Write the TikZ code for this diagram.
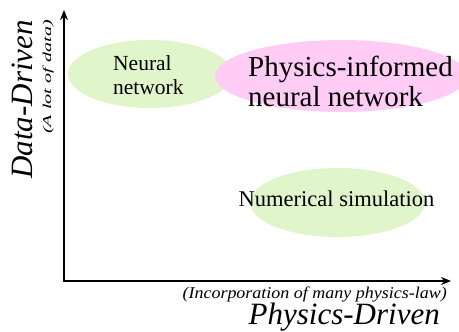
\documentclass[tikz,border=0pt]{standalone}
\usepackage{fontspec}
\setmainfont{Liberation Serif}
\usetikzlibrary{shapes.geometric, arrows.meta}

\definecolor{leafgreen}{HTML}{E1F5CA}
\definecolor{softpink}{HTML}{FFCCF6}

\tikzset{
  blob/.style={ellipse, draw=none, inner sep=0pt},
  axislabel/.style={font=\fontsize{31}{33}\selectfont\itshape, inner sep=0pt},
  axisnote/.style={font=\fontsize{16.5}{18}\selectfont\itshape, inner sep=0pt},
}

\begin{document}
\begin{tikzpicture}[x=1pt, y=-1pt]
  % Frame of the page
  \useasboundingbox (0,0) rectangle (459,332);

  % Axes
  \coordinate (origin) at (64,281);
  \coordinate (ytip) at (64,10);
  \coordinate (xtip) at (451,281);
  \draw[line width=1.2pt, {Stealth[length=10pt,width=8pt]}-{Stealth[length=10pt,width=8pt]}] (ytip) -- (origin) -- (xtip);

  % Coloured regions
  \node[blob, fill=leafgreen, minimum width=164pt, minimum height=68pt] (nnblob) at (150,74) {};
  \node[blob, fill=softpink, minimum width=252pt, minimum height=72pt] (pinnblob) at (341,76) {};
  \node[blob, fill=leafgreen, minimum width=175pt, minimum height=69pt] (simblob) at (337.5,202.5) {};

  % Region texts
  \node[align=left, anchor=west, inner sep=0pt, font=\fontsize{21.5}{23.5}\selectfont] (nn) at (113,75) {Neural\\network};
  \node[align=left, anchor=west, inner sep=0pt, font=\fontsize{29}{30}\selectfont] (pinn) at (248,81) {Physics-informed\\neural network};
  \node[anchor=base, inner sep=0pt, font=\fontsize{22.5}{24}\selectfont] (sim) at (336.5,206) {Numerical simulation};

  % Axis texts
  \node[axislabel, rotate=90, anchor=base east] (ylabel) at (32,20) {Data-Driven};
  \node[axisnote, rotate=90, anchor=base east, font=\fontsize{12}{14}\selectfont\itshape] (ynote) at (51,20) {\scalebox{1.68}[1]{(A lot of data)}};
  \node[axisnote, anchor=base east] (xnote) at (447,298) {\scalebox{1.09}[1]{(Incorporation of many physics-law)}};
  \node[axislabel, anchor=base east] (xlabel) at (440,324) {Physics-Driven};
\end{tikzpicture}
\end{document}
